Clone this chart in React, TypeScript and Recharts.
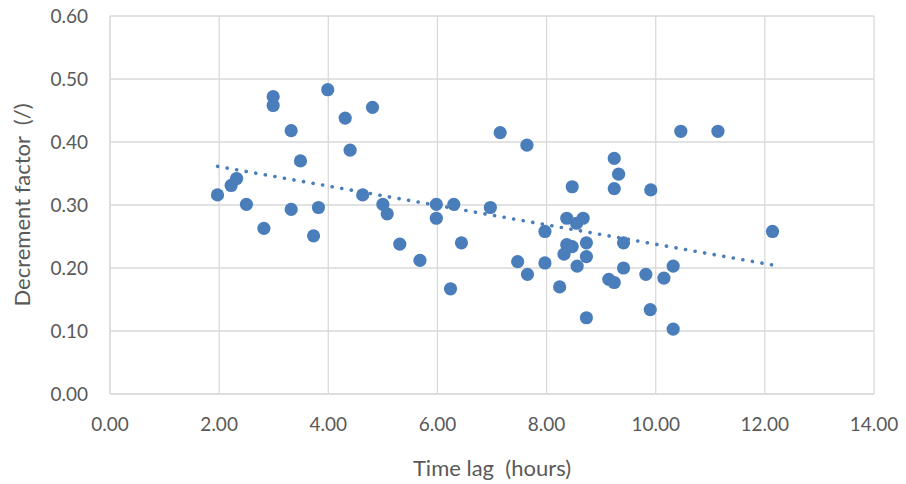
import { ScatterChart, Scatter, XAxis, YAxis, CartesianGrid } from "recharts"

// time lag (hours) and decrement factor (/)
const timeLag = [
  1.97, 2.22, 2.32, 2.5, 2.82, 2.99, 2.99, 3.32, 3.32, 3.49, 3.73, 3.82, 3.99, 4.31, 4.4, 4.81,
  4.63, 5.0, 5.08, 5.31, 5.68, 5.98, 5.98, 6.24, 6.3, 6.44, 6.97, 7.15, 7.64, 7.47, 7.65, 7.97,
  7.97, 8.24, 8.37, 8.47, 8.55, 8.67, 8.37, 8.47, 8.32, 8.73, 8.73, 8.56, 8.73, 9.24, 9.32, 9.24,
  9.91, 9.41, 9.41, 9.14, 9.24, 9.82, 9.9, 10.46, 11.14, 10.15, 10.32, 10.32, 12.14,
]
const decrement = [
  0.316, 0.331, 0.342, 0.301, 0.263, 0.472, 0.458, 0.418, 0.293, 0.37, 0.251, 0.296, 0.483, 0.438,
  0.387, 0.455, 0.316, 0.301, 0.286, 0.238, 0.212, 0.301, 0.279, 0.167, 0.301, 0.24, 0.296, 0.415,
  0.395, 0.21, 0.19, 0.258, 0.208, 0.17, 0.279, 0.329, 0.271, 0.279, 0.237, 0.234, 0.222, 0.24,
  0.218, 0.203, 0.121, 0.374, 0.349, 0.326, 0.324, 0.24, 0.2, 0.182, 0.177, 0.19, 0.134, 0.417,
  0.417, 0.184, 0.203, 0.103, 0.258,
]
const xTicks = [0, 2, 4, 6, 8, 10, 12, 14]
const yTicks = [0, 0.1, 0.2, 0.3, 0.4, 0.5, 0.6]

const points = timeLag.map((x, i) => ({ x, y: decrement[i] }))

// linear trendline (least squares), drawn from min x to max x like Excel
const n = points.length
const mx = timeLag.reduce((a, b) => a + b, 0) / n
const my = decrement.reduce((a, b) => a + b, 0) / n
let sxy = 0
let sxx = 0
points.forEach((p) => {
  sxy += (p.x - mx) * (p.y - my)
  sxx += (p.x - mx) * (p.x - mx)
})
const slope = sxy / sxx
const icpt = my - slope * mx
const xMin = Math.min(...timeLag)
const xMax = Math.max(...timeLag)
const trend = [
  { x: xMin, y: icpt + slope * xMin },
  { x: xMax, y: icpt + slope * xMax },
]

const blue = "#4a7ebb"
const grid = "#d9d9d9"
const textColor = "#595959"
const font = "Lato, 'Open Sans', sans-serif"

export default function App() {
  return (
    <div style={{ position: "absolute", left: 0, top: 0, background: "#fff" }}>
      <ScatterChart width={906} height={484} margin={{ top: 16, right: 32, left: 0, bottom: 0 }}>
        <CartesianGrid stroke={grid} strokeWidth={1.3} verticalValues={xTicks} horizontalValues={yTicks} />
        <XAxis
          type="number"
          dataKey="x"
          domain={[0, 14]}
          ticks={xTicks}
          tickFormatter={(v: number) => v.toFixed(2)}
          height={90}
          tickLine={false}
          axisLine={{ stroke: grid }}
          tickSize={0}
          tickMargin={24}
          tick={{ fill: textColor, fontSize: 19, fontFamily: font }}
          label={{ value: "Time lag\u00a0\u00a0(hours)", position: "insideBottom", offset: 8, fill: textColor, fontSize: 22, fontFamily: font }}
          allowDataOverflow
        />
        <YAxis
          type="number"
          dataKey="y"
          domain={[0, 0.6]}
          ticks={yTicks}
          tickFormatter={(v: number) => v.toFixed(2)}
          width={110}
          tickLine={false}
          axisLine={{ stroke: grid }}
          tickSize={0}
          tickMargin={22}
          tick={{ fill: textColor, fontSize: 19, fontFamily: font }}
          label={{ value: "Decrement factor\u00a0\u00a0(/)", angle: -90, position: "insideLeft", offset: 22, fill: textColor, fontSize: 22, fontFamily: font, style: { textAnchor: "middle" } }}
          allowDataOverflow
        />
        <Scatter data={points} fill={blue} isAnimationActive={false} shape={(p: any) => <circle cx={p.cx} cy={p.cy} r={6.6} fill={blue} />} />
        <Scatter
          data={trend}
          isAnimationActive={false}
          line={{ stroke: blue, strokeWidth: 3.6, strokeDasharray: "0.1 9.6", strokeLinecap: "round" }}
          shape={() => <g />}
        />
      </ScatterChart>
    </div>
  )
}
